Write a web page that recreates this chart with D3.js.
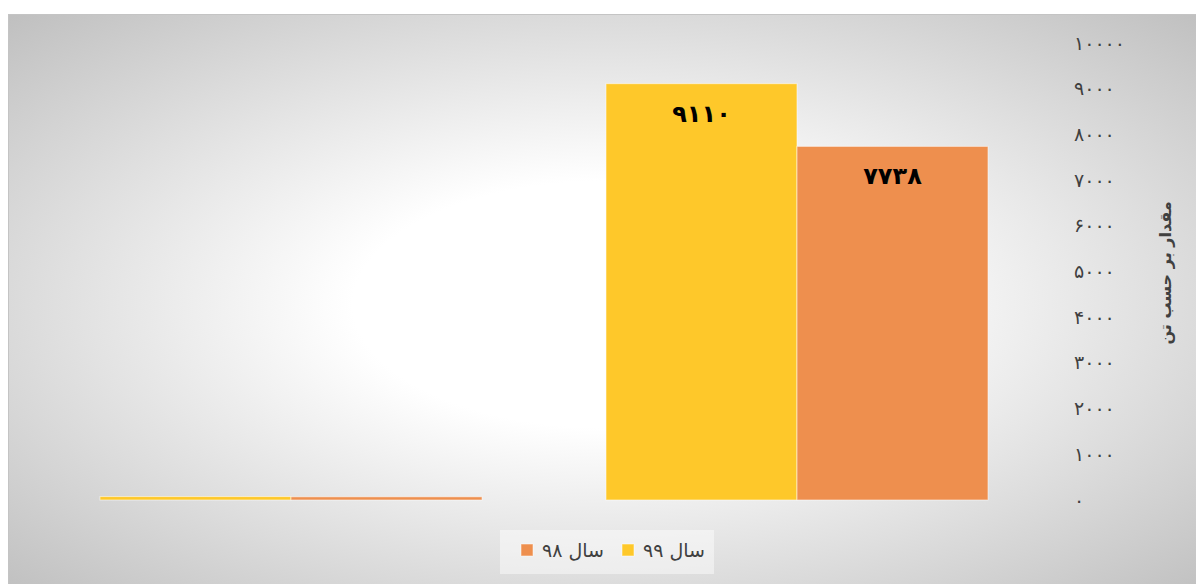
<!DOCTYPE html>
<html>

<head>
    <meta charset="utf-8">
    <title>مقدار بر حسب تن</title>
    <script type="text/javascript" src="https://d3js.org/d3.v7.min.js"></script>
    <style>
        body {
            margin: 0;
            background: #fff;
        }

        svg {
            display: block;
        }

        text {
            font-family: "DejaVu Sans", sans-serif;
        }
    </style>
</head>

<body>
</body>

<script type="text/javascript">
    // data
    var categories = ["۲", "۱"];
    var seriesNames = ["سال ۹۹", "سال ۹۸"];
    var series99 = [75, 9110];
    var series98 = [70, 7738];
    var yTicks = [0, 1000, 2000, 3000, 4000, 5000, 6000, 7000, 8000, 9000, 10000];

    var w = 1196;
    var h = 584;
    var colors = ["#fec82a", "#ee8f4e"];

    // latin digits -> persian digits
    function fa(n) {
        return String(n).replace(/[0-9]/g, function(c) {
            return "۰۱۲۳۴۵۶۷۸۹"[+c];
        });
    }

    var svg = d3.select("body")
        .append("svg")
        .attr("width", w)
        .attr("height", h);

    // chart area background: white centre fading to grey
    var grad = svg.append("defs")
        .append("radialGradient")
        .attr("id", "bg")
        .attr("cx", 0.5)
        .attr("cy", 0.5)
        .attr("r", 0.71);
    grad.append("stop").attr("offset", 0).attr("stop-color", "#ffffff");
    grad.append("stop").attr("offset", 0.3).attr("stop-color", "#ffffff");
    grad.append("stop").attr("offset", 1).attr("stop-color", "#bfbfbf");

    svg.append("rect")
        .attr("x", 8.5)
        .attr("y", 14.5)
        .attr("width", 1200)
        .attr("height", 580)
        .attr("fill", "url(#bg)")
        .attr("stroke", "#c4c4c4")
        .attr("stroke-width", 1);

    var x0 = d3.scaleBand()
        .domain(categories)
        .range([38, 1050])
        .paddingInner(0.245)
        .paddingOuter(0.1225);

    var x1 = d3.scaleBand()
        .domain(seriesNames)
        .range([0, x0.bandwidth()]);

    var y = d3.scaleLinear()
        .domain([0, 10000])
        .range([500, 43]);

    var rows = categories.map(function(c, i) {
        return {
            cat: c,
            values: [series99[i], series98[i]]
        };
    });

    // right-hand axis, labels only
    var yAxis = d3.axisRight(y)
        .tickValues(yTicks)
        .tickSize(0)
        .tickPadding(0)
        .tickFormat(fa);

    var axisG = svg.append("g")
        .attr("transform", "translate(1074,0)")
        .call(yAxis);
    axisG.select(".domain").remove();
    axisG.selectAll("text")
        .attr("font-size", 19)
        .attr("letter-spacing", 1.5)
        .attr("fill", "#404040")
        .attr("font-family", "DejaVu Sans, sans-serif");

    // bars
    var groups = svg.selectAll("g.cat")
        .data(rows)
        .enter()
        .append("g")
        .attr("class", "cat")
        .attr("transform", function(d) {
            return "translate(" + x0(d.cat) + ",0)";
        });

    groups.selectAll("rect")
        .data(function(d) {
            return d.values.map(function(v, i) {
                return { name: seriesNames[i], value: v, i: i };
            });
        })
        .enter()
        .append("rect")
        .attr("x", function(d) { return x1(d.name); })
        .attr("y", function(d) { return y(d.value); })
        .attr("width", x1.bandwidth())
        .attr("height", function(d) { return y(0) - y(d.value); })
        .attr("fill", function(d) { return colors[d.i]; })
        .attr("stroke", "#ffffff")
        .attr("stroke-opacity", 0.55)
        .attr("stroke-width", 1);

    // value labels inside the top of the tall bars
    groups.selectAll("text")
        .data(function(d) {
            return d.values.map(function(v, i) {
                return { name: seriesNames[i], value: v };
            }).filter(function(d) {
                return y(0) - y(d.value) > 40;
            });
        })
        .enter()
        .append("text")
        .attr("x", function(d) { return x1(d.name) + x1.bandwidth() / 2; })
        .attr("y", function(d) { return y(d.value) + 38; })
        .attr("text-anchor", "middle")
        .attr("font-size", 24)
        .attr("font-weight", "bold")
        .attr("letter-spacing", 1)
        .attr("fill", "#000")
        .text(function(d) { return fa(d.value); });

    // axis title, reading from top to bottom
    svg.append("text")
        .attr("transform", "translate(1171,273) rotate(-90)")
        .attr("text-anchor", "middle")
        .attr("font-size", 16)
        .attr("font-weight", "bold")
        .attr("fill", "#404040")
        .text("مقدار بر حسب تن");

    // legend, right to left
    svg.append("rect")
        .attr("x", 500)
        .attr("y", 530)
        .attr("width", 214)
        .attr("height", 44)
        .attr("fill", "#ffffff")
        .attr("fill-opacity", 0.45);

    var legendX = [622, 521];
    var legend = svg.selectAll("g.legend")
        .data(seriesNames)
        .enter()
        .append("g")
        .attr("class", "legend")
        .attr("transform", function(d, i) {
            return "translate(" + legendX[i] + ",544)";
        });

    legend.append("rect")
        .attr("width", 12)
        .attr("height", 12)
        .attr("fill", function(d, i) { return colors[i]; })
        .attr("stroke", "#ffffff")
        .attr("stroke-opacity", 0.5);

    legend.append("text")
        .attr("x", 21)
        .attr("y", 13)
        .attr("font-size", 19)
        .attr("fill", "#404040")
        .text(function(d) { return d; });
</script>

</html>
